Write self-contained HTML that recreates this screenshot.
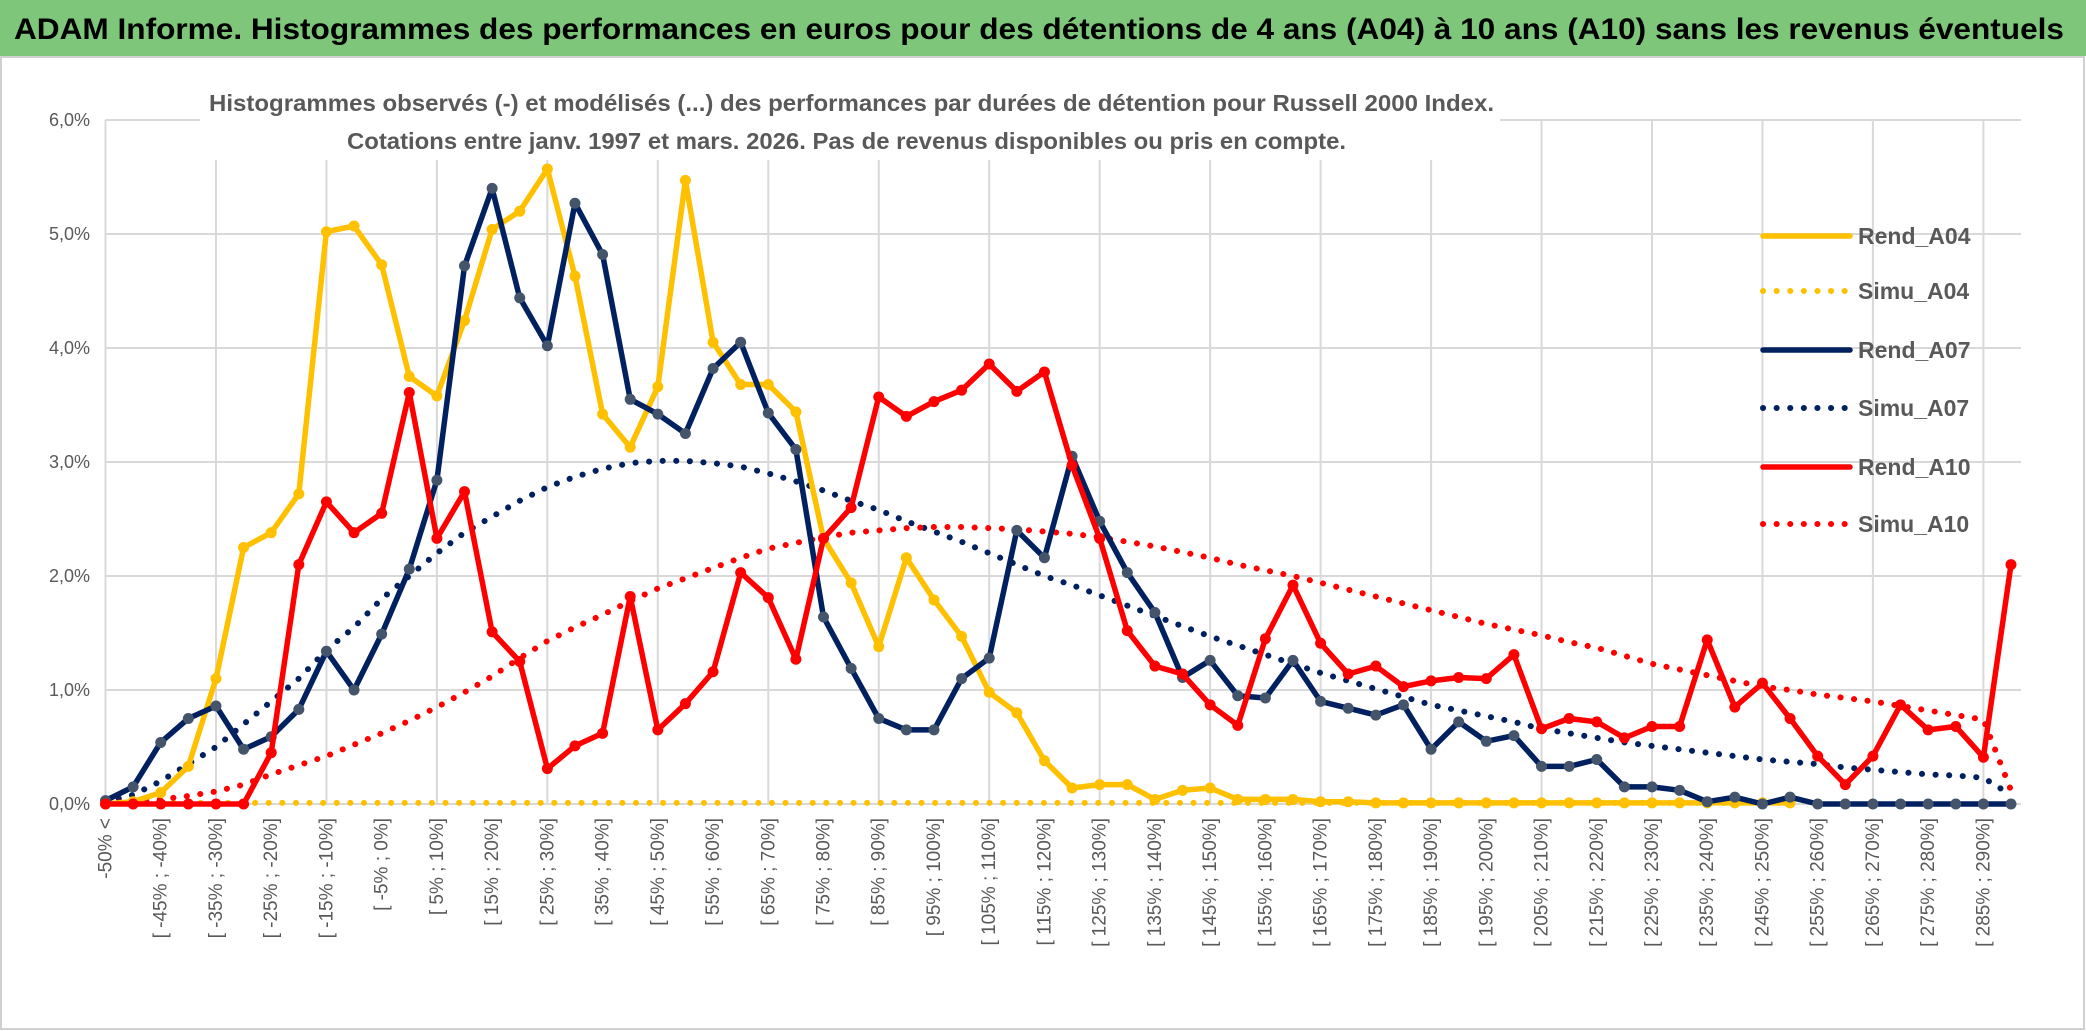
<!DOCTYPE html>
<html><head><meta charset="utf-8">
<style>
html,body{margin:0;padding:0;background:#fff;}
svg{display:block;font-family:"Liberation Sans",sans-serif;}
</style></head>
<body>
<svg id="chart" width="2086" height="1031" viewBox="0 0 2086 1031" xmlns="http://www.w3.org/2000/svg">
  <rect x="0" y="0" width="2086" height="1031" fill="#fff"/>
  <rect x="0" y="0" width="2086" height="56" fill="#7dc67a"/>
  <text x="14" y="39" font-size="30" font-weight="bold" fill="#000" textLength="2050" lengthAdjust="spacingAndGlyphs">ADAM Informe. Histogrammes des performances en euros pour des détentions de 4 ans (A04) à 10 ans (A10) sans les revenus éventuels</text>
  <rect x="1" y="57" width="2083" height="972" fill="none" stroke="#d0d0d0" stroke-width="2"/>
  <g id="grid"></g>
  <rect x="200" y="84" width="1300" height="76" fill="#fff"/>
  <text x="209" y="111" font-size="23" font-weight="bold" fill="#595959" textLength="1285" lengthAdjust="spacingAndGlyphs">Histogrammes observés (-) et modélisés (...) des performances par durées de détention pour Russell 2000 Index.</text>
  <text x="347" y="149" font-size="23" font-weight="bold" fill="#595959" textLength="999" lengthAdjust="spacingAndGlyphs">Cotations entre janv. 1997 et mars. 2026. Pas de revenus disponibles ou pris en compte.</text>
  <g id="yaxis"></g>
  <g id="xaxis"></g>
  <g id="series"></g>
  <g id="legend"></g>
</svg>
<script>
const rendA04 = [0,0.02,0.1,0.33,1.1,2.25,2.38,2.72,5.02,5.07,4.73,3.75,3.58,4.24,5.04,5.2,5.57,4.63,3.42,3.13,3.66,5.47,4.05,3.68,3.68,3.44,2.33,1.94,1.38,2.16,1.79,1.47,0.98,0.8,0.38,0.14,0.17,0.17,0.04,0.12,0.14,0.04,0.04,0.04,0.02,0.02,0.01,0.01,0.01,0.01,0.01,0.01,0.01,0.01,0.01,0.01,0.01,0.01,0.01,0.01,0.01,0.01,null,null,null,null,null,null,null,null];
const simuA04 = [0,0.01,0.01,0.01,0.01,0.01,0.01,0.01,0.01,0.01,0.01,0.01,0.01,0.01,0.01,0.01,0.01,0.01,0.01,0.01,0.01,0.01,0.01,0.01,0.01,0.01,0.01,0.01,0.01,0.01,0.01,0.01,0.01,0.01,0.01,0.01,0.01,0.01,0.01,0.01,0.01,0.01,0.01,0.01,0.01,0.01,0.01,0.01,0.01,0.01,0.01,0.01,0.01,0.01,0.01,0.01,0.01,0.01,0.01,0.01,0.01,0.01,null,null,null,null,null,null,null,null];
const rendA07 = [0.03,0.15,0.54,0.75,0.86,0.48,0.59,0.83,1.34,1.0,1.49,2.06,2.84,4.72,5.4,4.44,4.02,5.27,4.82,3.55,3.42,3.25,3.82,4.05,3.43,3.11,1.64,1.19,0.75,0.65,0.65,1.1,1.28,2.4,2.16,3.05,2.48,2.03,1.68,1.11,1.26,0.95,0.93,1.26,0.9,0.84,0.78,0.87,0.48,0.72,0.55,0.6,0.33,0.33,0.39,0.15,0.15,0.12,0.02,0.06,0,0.06,0,0,0,0,0,0,0,0];
const simuA07 = [0.02,0.08,0.2,0.35,0.5,0.7,0.9,1.1,1.35,1.55,1.8,2.0,2.2,2.38,2.52,2.66,2.78,2.87,2.94,2.99,3.01,3.01,2.99,2.96,2.9,2.83,2.75,2.66,2.58,2.48,2.39,2.3,2.2,2.1,2.0,1.92,1.83,1.74,1.65,1.56,1.47,1.39,1.31,1.23,1.15,1.08,1.01,0.94,0.87,0.82,0.77,0.72,0.66,0.62,0.58,0.54,0.51,0.48,0.45,0.42,0.39,0.37,0.35,0.32,0.3,0.28,0.26,0.25,0.23,0.08];
const rendA10 = [0,0,0,0,0,0,0.45,2.1,2.65,2.38,2.55,3.61,2.33,2.74,1.51,1.25,0.31,0.51,0.62,1.82,0.65,0.88,1.16,2.03,1.81,1.27,2.33,2.6,3.57,3.4,3.53,3.63,3.86,3.62,3.79,2.97,2.33,1.52,1.21,1.14,0.87,0.69,1.45,1.92,1.41,1.14,1.21,1.03,1.08,1.11,1.1,1.31,0.66,0.75,0.72,0.58,0.68,0.68,1.44,0.85,1.06,0.75,0.42,0.17,0.42,0.87,0.65,0.68,0.41,2.1];
const simuA10 = [0.01,0.02,0.04,0.07,0.11,0.17,0.26,0.34,0.42,0.52,0.62,0.73,0.85,0.98,1.12,1.28,1.43,1.55,1.66,1.78,1.89,1.98,2.07,2.16,2.24,2.29,2.34,2.38,2.4,2.42,2.43,2.43,2.42,2.41,2.39,2.37,2.34,2.3,2.26,2.21,2.16,2.1,2.05,2.0,1.94,1.88,1.82,1.76,1.7,1.64,1.58,1.53,1.48,1.42,1.37,1.3,1.23,1.18,1.13,1.08,1.03,1.0,0.96,0.93,0.9,0.86,0.82,0.78,0.74,0.12];
const yTicks = [0,1,2,3,4,5,6];
const yTickLabels = ["0,0%","1,0%","2,0%","3,0%","4,0%","5,0%","6,0%"];
const xLabels = ["-50% <","[ -45% ; -40%]","[ -35% ; -30%]","[ -25% ; -20%]","[ -15% ; -10%]","[ -5% ; 0%]","[ 5% ; 10%]","[ 15% ; 20%]","[ 25% ; 30%]","[ 35% ; 40%]","[ 45% ; 50%]","[ 55% ; 60%]","[ 65% ; 70%]","[ 75% ; 80%]","[ 85% ; 90%]","[ 95% ; 100%]","[ 105% ; 110%]","[ 115% ; 120%]","[ 125% ; 130%]","[ 135% ; 140%]","[ 145% ; 150%]","[ 155% ; 160%]","[ 165% ; 170%]","[ 175% ; 180%]","[ 185% ; 190%]","[ 195% ; 200%]","[ 205% ; 210%]","[ 215% ; 220%]","[ 225% ; 230%]","[ 235% ; 240%]","[ 245% ; 250%]","[ 255% ; 260%]","[ 265% ; 270%]","[ 275% ; 280%]","[ 285% ; 290%]"];
const legendNames = ["Rend_A04","Simu_A04","Rend_A07","Simu_A07","Rend_A10","Simu_A10"];

const NS = "http://www.w3.org/2000/svg";
const N = rendA10.length;
const X0 = 105.5, X1 = 2011, Y0 = 804, PER = 114;
const xPos = i => X0 + (X1 - X0) * i / (N - 1);
const yPos = v => Y0 - v * PER;
function mk(tag, attrs, parent){ const e=document.createElementNS(NS,tag); for(const k in attrs) e.setAttribute(k,attrs[k]); parent.appendChild(e); return e; }

const grid = document.getElementById('grid');
yTicks.forEach((t,k)=>{
  const l = mk('line',{x1:X0,x2:X1+10,y1:yPos(t),y2:yPos(t),stroke:'#d9d9d9','stroke-width':2},grid);
  
  
});
for(let i=0;i<N;i+=4){
  const l = mk('line',{x1:xPos(i),x2:xPos(i),y1:yPos(6),y2:Y0,stroke:'#d9d9d9','stroke-width':2},grid);
  
  
}
const ya = document.getElementById('yaxis');
yTicks.forEach((t,k)=>{
  const tx = mk('text',{x:90,y:yPos(t)+6,'font-size':18,fill:'#595959','text-anchor':'end'},ya);
  tx.textContent = yTickLabels[k];
  
  
});
const xa = document.getElementById('xaxis');
xLabels.forEach((s,k)=>{
  const x = xPos(k*2)+6;
  const tx = mk('text',{x:x,y:818,'font-size':19,fill:'#595959','text-anchor':'end',transform:`rotate(-90 ${x} 818)`},xa);
  tx.textContent = s;
  
  
});
const sg = document.getElementById('series');
function drawLine(data, color, dotted, markerColor, name){
  let d=''; let started=false;
  data.forEach((v,i)=>{ if(v===null){started=false;return;} d += (started?'L':'M')+xPos(i).toFixed(1)+' '+yPos(v).toFixed(1)+' '; started=true; });
  const p = mk('path',{d:d,fill:'none',stroke:color,'stroke-width':dotted?6:5.5,'stroke-linejoin':'round','stroke-linecap':'round'},sg);
  if(dotted) p.setAttribute('stroke-dasharray','0.1 13.5');
  
  
  if(markerColor){
    data.forEach((v,i)=>{ if(v===null) return;
      const c = mk('circle',{cx:xPos(i),cy:yPos(v),r:5.5,fill:markerColor},sg);
      
      
    });
  }
}
drawLine(simuA04,'#ffc000',true,null,'simu-a04-line');
drawLine(simuA07,'#002060',true,null,'simu-a07-line');
drawLine(simuA10,'#ff0000',true,null,'simu-a10-line');
drawLine(rendA04,'#ffc000',false,'#ffc000','rend-a04-line');
drawLine(rendA07,'#002060',false,'#44546a','rend-a07-line');
drawLine(rendA10,'#ff0000',false,'#ff0000','rend-a10-line');

const lg = document.getElementById('legend');
const lColors = ['#ffc000','#ffc000','#002060','#002060','#ff0000','#ff0000'];
const lYs = [236,291,350,408,467,524];
legendNames.forEach((n,k)=>{
  const y = lYs[k];
  const ln = mk('line',{x1:1763,x2:1850,y1:y,y2:y,stroke:lColors[k],'stroke-width':k%2?6:5.5,'stroke-linecap':'round'},lg);
  if(k%2) ln.setAttribute('stroke-dasharray','0.1 13.5');
  
  
  const tx = mk('text',{x:1858,y:y+8,'font-size':23,'font-weight':'bold',fill:'#595959'},lg);
  tx.textContent = n;
  
  
});
</script>
</body></html>
